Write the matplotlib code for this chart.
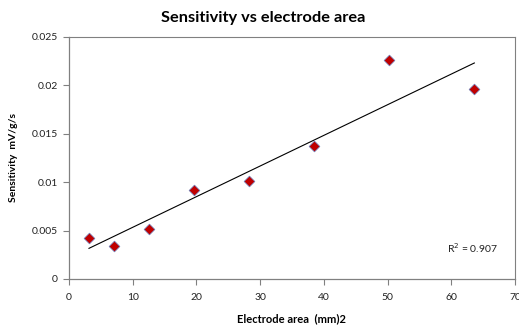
import numpy as np
import matplotlib
matplotlib.use("Agg")
import matplotlib.pyplot as plt

area = [3.14, 7.07, 12.57, 19.63, 28.27, 38.48, 50.27, 63.62]
sensitivity = [0.0042, 0.0034, 0.0052, 0.0092, 0.0101, 0.0137, 0.0226, 0.0196]
x_ticks = [0, 10, 20, 30, 40, 50, 60, 70]
y_ticks = [0, 0.005, 0.01, 0.015, 0.02, 0.025]
y_tick_labels = ["0", "0.005", "0.01", "0.015", "0.02", "0.025"]
r2_label = "R$^{2}$ = 0.907"

plt.rcParams['font.family'] = ['Lato', 'DejaVu Sans']

fig = plt.figure(figsize=(5.19, 3.27), dpi=100)
ax = fig.add_axes([0.1329, 0.1468, 0.8594, 0.7401])

x = np.array(area)
y = np.array(sensitivity)
m, b = np.polyfit(x, y, 1)
xl = np.array([x.min(), x.max()])
ax.plot(xl, m * xl + b, color='black', lw=0.8, zorder=2)

ax.scatter(x, y, marker='D', s=30, facecolor='#C00000', edgecolor='#6A7BB8',
           linewidths=0.5, zorder=3)

ax.set_xlim(0, 70)
ax.set_ylim(0, 0.025)
ax.set_xticks(x_ticks)
ax.set_xticklabels([str(t) for t in x_ticks])
ax.set_yticks(y_ticks)
ax.set_yticklabels(y_tick_labels)
ax.tick_params(axis='both', direction='out', length=4, width=0.8, color='#808080',
               labelsize=7.5, labelcolor='#222222')
ax.tick_params(axis='x', pad=6)
ax.tick_params(axis='y', pad=4)
for s in ['left', 'bottom']:
    ax.spines[s].set_color('#808080')
    ax.spines[s].set_linewidth(0.9)
for s in ['top', 'right']:
    ax.spines[s].set_color('#808080')
    ax.spines[s].set_linewidth(0.8)

ax.text(0.848, 0.128, r2_label, transform=ax.transAxes,
        fontsize=7.5, color='#222222', ha='left', va='center')

fig.text(0.508, 0.945, "Sensitivity vs electrode area", ha='center', va='center',
         fontsize=11.8, fontweight='bold')
ax.set_xlabel("Electrode area  (mm)2", fontsize=8, fontweight='bold', labelpad=8)
ax.set_ylabel("Sensitivity  mV/g/s", fontsize=7.5, fontweight='bold', labelpad=10)

fig.savefig("out.png", dpi=100)
